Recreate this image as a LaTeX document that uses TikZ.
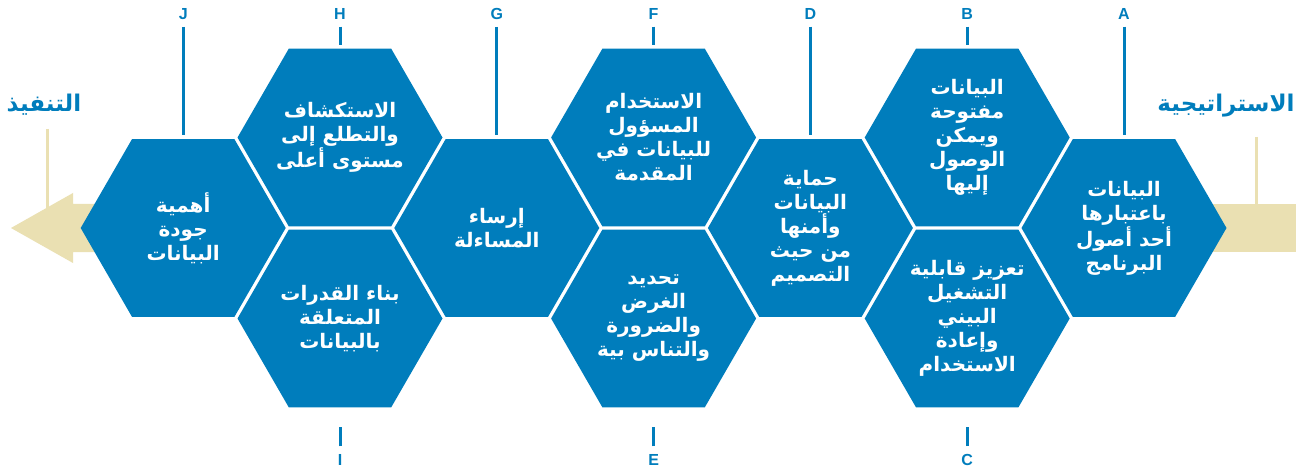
\documentclass[tikz,border=0pt]{standalone}
\usepackage{fontspec}
\setmainfont{Liberation Sans}
\newfontfamily\arabicfont[Script=Arabic]{DejaVu Sans}
\TeXXeTstate=1
\usetikzlibrary{shapes.geometric}
\definecolor{hexblue}{RGB}{0,125,188}
\definecolor{sand}{RGB}{234,224,178}
\newcommand{\ar}[1]{\beginR #1\endR}
\tikzset{
  hexa/.style={regular polygon, regular polygon sides=6, minimum size=205pt, inner sep=0pt,
    fill=hexblue},
  hextext/.style={inner sep=0pt, text=white, align=center,
    font=\arabicfont\bfseries\fontsize{20}{24}\selectfont},
  letter/.style={inner sep=0pt, text=hexblue, font=\bfseries\fontsize{16}{16}\selectfont},
  headline/.style={inner sep=0pt, text=hexblue, font=\arabicfont\bfseries\fontsize{23}{26}\selectfont},
  lead/.style={draw=hexblue, line width=3pt},
  sandline/.style={draw=sand, line width=3pt}
}
\begin{document}
\begin{tikzpicture}[x=1pt,y=-1pt]
\useasboundingbox (0,0) rectangle (1309,473);
\fill[white] (0,0) rectangle (1309,473);
% sand arrows
\fill[sand] (1200,204) rectangle (1296,252);
\coordinate (rs1) at (1256,137);
\coordinate (rs2) at (1256,205);
\draw[sandline] (rs1) -- (rs2);
\fill[sand] (11,228) -- (73,193) -- (73,204) -- (130,204) -- (130,252) -- (73,252) -- (73,263) -- cycle;
\coordinate (ls1) at (47,129);
\coordinate (ls2) at (47,210);
\draw[sandline] (ls1) -- (ls2);
% headings
\node[headline] (strat) at (1226,106) {\ar{الاستراتيجية}};
\node[headline] (impl) at (44,105) {\ar{التنفيذ}};
% hexagons
\node[hexa] (A) at (1124,228) {};
\node[hexa] (B) at (967.2,137.5) {};
\node[hexa] (C) at (967.2,318.5) {};
\node[hexa] (D) at (810.4,228) {};
\node[hexa] (E) at (653.6,318.5) {};
\node[hexa] (F) at (653.6,137.5) {};
\node[hexa] (G) at (496.8,228) {};
\node[hexa] (H) at (340,137.5) {};
\node[hexa] (I) at (340,318.5) {};
\node[hexa] (J) at (183.2,228) {};
% hexagon texts
\node[hextext] (tA) at (A.center) {\ar{البيانات}\\\ar{باعتبارها}\\\ar{أحد أصول}\\\ar{البرنامج}};
\node[hextext] (tB) at (B.center) {\ar{البيانات}\\\ar{مفتوحة}\\\ar{ويمكن}\\\ar{الوصول}\\\ar{إليها}};
\node[hextext] (tC) at (C.center) {\ar{تعزيز قابلية}\\\ar{التشغيل}\\\ar{البيني}\\\ar{وإعادة}\\\ar{الاستخدام}};
\node[hextext] (tD) at (D.center) {\ar{حماية}\\\ar{البيانات}\\\ar{وأمنها}\\\ar{من حيث}\\\ar{التصميم}};
\node[hextext] (tE) at (E.center) {\ar{تحديد}\\\ar{الغرض}\\\ar{والضرورة}\\\ar{والتناس بية}};
\node[hextext] (tF) at (F.center) {\ar{الاستخدام}\\\ar{المسؤول}\\\ar{للبيانات في}\\\ar{المقدمة}};
\node[hextext] (tG) at (G.center) {\ar{إرساء}\\\ar{المساءلة}};
\node[hextext] (tH) at (H.center) {\ar{الاستكشاف}\\\ar{والتطلع إلى}\\\ar{مستوى أعلى}};
\node[hextext] (tI) at (I.center) {\ar{بناء القدرات}\\\ar{المتعلقة}\\\ar{بالبيانات}};
\node[hextext] (tJ) at (J.center) {\ar{أهمية}\\\ar{جودة}\\\ar{البيانات}};
% letters
\node[letter] (lA) at (1124,14) {A};
\node[letter] (lB) at (967.2,14) {B};
\node[letter] (lD) at (810.4,14) {D};
\node[letter] (lF) at (653.6,14) {F};
\node[letter] (lG) at (496.8,14) {G};
\node[letter] (lH) at (340,14) {H};
\node[letter] (lJ) at (183.2,14) {J};
\node[letter] (lC) at (967.2,460) {C};
\node[letter] (lE) at (653.6,460) {E};
\node[letter] (lI) at (340,460) {I};
% leads
\foreach \n in {A,B,D,F,G,H,J}{
  \draw[lead, shorten <=7pt, shorten >=4pt] (l\n) -- (\n);
}
\foreach \n in {C,E,I}{
  \draw[lead, shorten <=8pt, shorten >=20pt] (l\n) -- (\n);
}
\end{tikzpicture}
\end{document}
